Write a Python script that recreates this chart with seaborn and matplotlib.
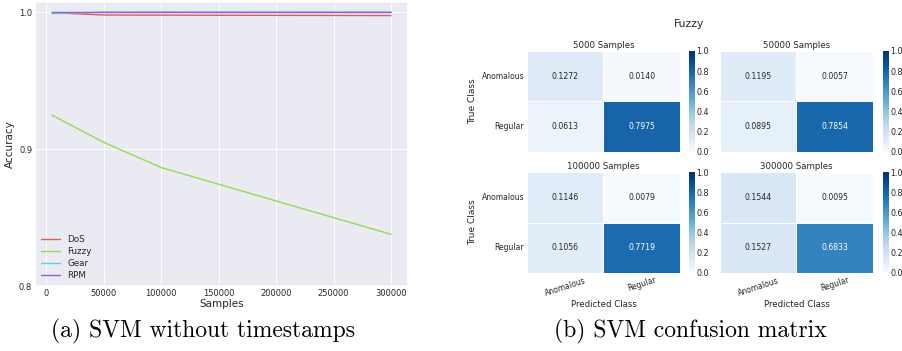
import numpy as np
import pandas as pd
import matplotlib
matplotlib.use("Agg")
import matplotlib.pyplot as plt
import seaborn as sns

# ---- accuracy vs. number of training samples (SVM, no timestamps) ----
samples = [5000, 50000, 100000, 300000]
acc_dos = [0.9995, 0.9978, 0.9977, 0.9974]
acc_fuzzy = [0.9247, 0.9049, 0.8865, 0.8377]
acc_gear = [0.9988, 1.0, 1.0, 1.0]
acc_rpm = [1.0, 1.0, 1.0, 1.0]
attacks = ["DoS", "Fuzzy", "Gear", "RPM"]

# ---- normalised confusion matrices for the Fuzzy attack ----
class_labels = ["Anomalous", "Regular"]
cm_titles = ["5000 Samples", "50000 Samples", "100000 Samples", "300000 Samples"]
cm_5000 = [[0.1272, 0.0140], [0.0613, 0.7975]]
cm_50000 = [[0.1195, 0.0057], [0.0895, 0.7854]]
cm_100000 = [[0.1146, 0.0079], [0.1056, 0.7719]]
cm_300000 = [[0.1544, 0.0095], [0.1527, 0.6833]]

sns.set_theme(style="darkgrid", rc={"grid.linewidth": 0.7})
plt.rcParams["font.family"] = ["DejaVu Sans"]

W, H = 903, 351
fig = plt.figure(figsize=(W / 100, H / 100), dpi=100)


def box(x0, y0, x1, y1):
    """pixel box (top-left origin) -> figure fraction rect"""
    return [x0 / W, 1 - y1 / H, (x1 - x0) / W, (y1 - y0) / H]


# ---------------- left: accuracy curves ----------------
ax = fig.add_axes(box(35, 2, 408, 286))
series = [acc_dos, acc_fuzzy, acc_gear, acc_rpm]
df = pd.DataFrame({
    "Samples": np.tile(samples, len(attacks)),
    "Accuracy": np.concatenate(series),
    "Attack": np.repeat(attacks, len(samples)),
})
sns.lineplot(data=df, x="Samples", y="Accuracy", hue="Attack",
             palette=sns.color_palette("hls", 4), linewidth=1.0, ax=ax)
ax.set_ylim(0.8, 1.0073)
ax.set_yticks([0.8, 0.9, 1.0])
ax.set_xticks([0, 50000, 100000, 150000, 200000, 250000, 300000])
ax.tick_params(labelsize=6, pad=2, length=0)
ax.set_xlabel("Samples", fontsize=7.5, labelpad=1)
ax.set_ylabel("Accuracy", fontsize=7.5, labelpad=3)
leg = ax.legend(loc="lower left", frameon=False, fontsize=6.3,
                borderaxespad=0.3, handlelength=2.2, labelspacing=0.35)
leg.set_title(None)
for line in leg.get_lines():
    line.set_linewidth(1.0)

# ---------------- right: confusion matrices ----------------
hm_boxes = [(527, 51, 680, 152), (720, 51, 873, 152),
            (527, 172, 680, 273), (720, 172, 873, 273)]
cb_boxes = [(689, 51, 695, 152), (883, 51, 889, 152),
            (689, 172, 695, 273), (883, 172, 889, 273)]
matrices = [cm_5000, cm_50000, cm_100000, cm_300000]

for i, (mat, title) in enumerate(zip(matrices, cm_titles)):
    hax = fig.add_axes(box(*hm_boxes[i]))
    cax = fig.add_axes(box(*cb_boxes[i]))
    sns.heatmap(np.array(mat), ax=hax, cbar_ax=cax, cmap="Blues",
                vmin=0, vmax=1, annot=True, fmt=".4f",
                annot_kws={"size": 5.6}, linewidths=0.7, linecolor="white",
                xticklabels=class_labels, yticklabels=class_labels)
    hax.set_title(title, fontsize=6.2, pad=2)
    hax.tick_params(length=0, labelsize=5.5, pad=2)
    row, col = divmod(i, 2)
    if col == 0:
        hax.set_yticklabels(class_labels, rotation=0, fontsize=5.5)
        hax.set_ylabel("True Class", fontsize=6.5, labelpad=3)
    else:
        hax.set_yticklabels([])
    if row == 1:
        hax.set_xticklabels(class_labels, rotation=18, fontsize=5.5)
        hax.set_xlabel("Predicted Class", fontsize=6.2, labelpad=2)
    else:
        hax.set_xticklabels([])
    cax.tick_params(labelsize=5.8, length=0, pad=1)
    cax.set_yticks([0.0, 0.2, 0.4, 0.6, 0.8, 1.0])

fig.text(689 / W, 1 - 24 / H, "Fuzzy", ha="center", va="center", fontsize=7.8,
         color="0.15")

# ---------------- sub-figure captions ----------------
fig.text(203 / W, 1 - 331 / H, "(a) SVM without timestamps", ha="center",
         va="center", fontsize=17, family="cmr10", color="black")
fig.text(690 / W, 1 - 331 / H, "(b) SVM confusion matrix", ha="center",
         va="center", fontsize=17, family="cmr10", color="black")

fig.savefig("out.png", dpi=100)
